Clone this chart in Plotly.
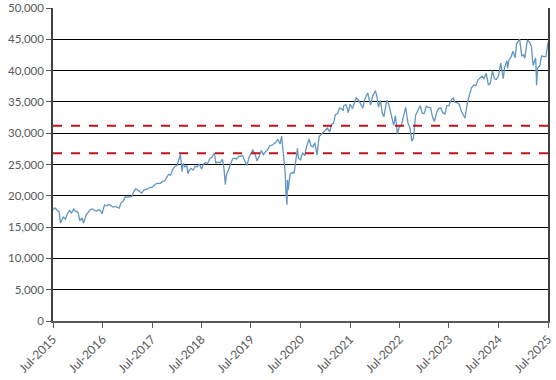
import plotly.graph_objects as go

dates = [
    "2015-07-01","2015-07-15","2015-08-01","2015-08-15","2015-08-25","2015-09-01","2015-09-15","2015-10-01","2015-10-15","2015-11-01","2015-11-15","2015-12-01","2015-12-15",
    "2016-01-01","2016-01-15","2016-02-01","2016-02-11","2016-03-01","2016-03-15","2016-04-01","2016-04-15","2016-05-01","2016-05-15","2016-06-01","2016-06-15","2016-06-27","2016-07-15","2016-08-01","2016-08-15","2016-09-01","2016-09-15","2016-10-01","2016-10-15","2016-11-01","2016-11-15","2016-12-01","2016-12-15",
    "2017-01-01","2017-01-15","2017-02-01","2017-02-15","2017-03-01","2017-03-15","2017-04-01","2017-04-15","2017-05-01","2017-05-15","2017-06-01","2017-06-15","2017-07-01","2017-07-15","2017-08-01","2017-08-15","2017-09-01","2017-09-15","2017-10-01","2017-10-15","2017-11-01","2017-11-15","2017-12-01","2017-12-15",
    "2018-01-01","2018-01-15","2018-01-26","2018-02-08","2018-02-15","2018-03-01","2018-03-15","2018-03-23","2018-04-01","2018-04-15","2018-05-01","2018-05-15","2018-06-01","2018-06-15","2018-07-01","2018-07-15","2018-08-01","2018-08-15","2018-09-01","2018-09-15","2018-10-03","2018-10-15","2018-11-01","2018-11-15","2018-12-03","2018-12-15","2018-12-24",
    "2019-01-01","2019-01-15","2019-02-01","2019-02-15","2019-03-01","2019-03-15","2019-04-01","2019-04-15","2019-05-01","2019-05-15","2019-06-03","2019-06-15","2019-07-01","2019-07-15","2019-08-01","2019-08-15","2019-09-01","2019-09-15","2019-10-01","2019-10-15","2019-11-01","2019-11-15","2019-12-01","2019-12-15",
    "2020-01-01","2020-01-15","2020-02-01","2020-02-12","2020-02-28","2020-03-09","2020-03-16","2020-03-23","2020-03-26","2020-04-01","2020-04-15","2020-05-01","2020-05-15","2020-06-08","2020-06-15","2020-07-01","2020-07-15","2020-08-01","2020-08-15","2020-09-02","2020-09-15","2020-10-01","2020-10-15","2020-10-30","2020-11-15","2020-12-01","2020-12-15",
    "2021-01-01","2021-01-15","2021-02-01","2021-02-15","2021-03-01","2021-03-15","2021-04-01","2021-04-15","2021-05-01","2021-05-12","2021-05-15","2021-06-01","2021-06-18","2021-07-01","2021-07-19","2021-08-01","2021-08-16","2021-09-01","2021-09-15","2021-10-04","2021-10-15","2021-11-01","2021-11-08","2021-11-30","2021-12-15","2021-12-29",
    "2022-01-04","2022-01-15","2022-01-27","2022-02-10","2022-02-24","2022-03-08","2022-03-29","2022-04-15","2022-05-01","2022-05-19","2022-06-01","2022-06-16","2022-07-01","2022-07-15","2022-08-01","2022-08-16","2022-09-01","2022-09-15","2022-09-30","2022-10-12","2022-10-28","2022-11-15","2022-12-01","2022-12-15","2022-12-30",
    "2023-01-15","2023-02-01","2023-02-15","2023-03-01","2023-03-15","2023-04-01","2023-04-15","2023-05-01","2023-05-15","2023-06-01","2023-06-15","2023-07-01","2023-07-15","2023-08-01","2023-08-15","2023-09-01","2023-09-15","2023-10-01","2023-10-27","2023-11-15","2023-12-01","2023-12-15",
    "2024-01-01","2024-01-15","2024-02-01","2024-02-15","2024-03-01","2024-03-15","2024-04-01","2024-04-17","2024-05-01","2024-05-17","2024-06-01","2024-06-15","2024-07-01","2024-07-17","2024-08-05","2024-08-15","2024-09-01","2024-09-06","2024-09-15","2024-10-01","2024-10-15","2024-11-01","2024-11-11","2024-12-04","2024-12-19",
    "2025-01-01","2025-01-10","2025-01-30","2025-02-15","2025-03-01","2025-03-13","2025-04-01","2025-04-08","2025-04-15","2025-05-01","2025-05-15","2025-06-01","2025-06-15","2025-07-01",
]

values = [
    17760,18050,17690,17480,15670,16060,16600,16280,17140,17660,17250,17890,17520,
    17425,15990,16450,15660,16870,17250,17790,17900,17770,17530,17790,17640,17140,18520,18400,18630,18420,18210,18310,18140,18040,18920,19190,19850,
    19760,19880,19890,20610,21115,20950,20660,20450,20910,20980,21140,21360,21350,21640,21960,21990,21990,22270,22400,22870,23440,23270,24230,24650,
    24820,25800,26620,23860,25200,24610,24870,23530,24100,24360,24100,24710,24630,25090,24270,25060,25330,25160,25960,26150,26830,25250,25380,25290,25830,24100,21790,
    23330,24070,25060,25880,26030,25850,26260,26380,26430,25650,24820,26090,26720,27360,26580,25580,26400,27220,26570,27020,27350,28000,28050,28240,
    28540,29030,28260,29550,25410,23850,20190,18590,22550,20940,23500,23720,23690,27570,26000,25730,26870,26430,27930,29100,27990,27820,28490,26500,29480,29820,30200,
    30600,30810,30210,31460,31540,32950,33150,34040,33870,33590,34380,34600,33290,34630,33960,34930,35630,35310,34810,34000,35290,36050,36430,34480,35930,36490,
    36800,35910,34160,35240,33220,32630,35290,34450,32980,31250,32810,29930,31100,31290,32800,34150,31650,30960,28730,29210,32860,33590,34400,33200,33150,
    34300,34090,34130,32660,31870,33270,33890,34050,33350,33060,34400,34400,35200,35630,34950,34840,34600,33500,32420,34990,36250,37300,
    37690,37600,38520,38770,39090,38710,39570,37750,37900,40000,38690,38590,39170,41200,38700,40560,41560,40350,41620,42150,43080,42050,44290,45010,42340,
    42540,41940,44880,44550,43840,40810,42000,37650,40370,40750,42320,42270,42200,44490,
]

ref_levels = [31200, 26800]
x_start = "2015-07-01"
x_end = "2025-07-01"
y_ticks = list(range(0, 50001, 5000))

fig = go.Figure()
fig.add_trace(go.Scatter(x=dates, y=values, mode="lines",
                         line=dict(color="#6296c3", width=1.3), showlegend=False))
for lv in ref_levels:
    fig.add_trace(go.Scatter(x=[x_start, x_end], y=[lv, lv], mode="lines",
                             line=dict(color="#c0141c", width=2, dash="dash"),
                             showlegend=False))

fig.update_layout(
    width=556, height=380,
    margin=dict(l=53, r=8, t=8, b=59),
    paper_bgcolor="white", plot_bgcolor="white",
    font=dict(family="Lato, Open Sans, sans-serif", size=12, color="#595959"),
)
fig.update_xaxes(
    type="date", range=[x_start, x_end], automargin=False,
    tick0=x_start, dtick="M12", tickformat="%b-%Y", tickangle=-45,
    tickfont=dict(size=12), ticklabeloverflow="allow",
    showgrid=False, showline=True, linecolor="#595959", linewidth=1.5,
    ticks="outside", ticklen=5, tickcolor="#595959",
)
fig.update_yaxes(
    range=[0, 50000], tickvals=y_ticks, tickformat=",d", automargin=False,
    ticklabeloverflow="allow", tickfont=dict(size=11.5),
    showgrid=True, gridcolor="black", gridwidth=1,
    showline=True, linecolor="#404040", linewidth=1.5, mirror=True,
    ticks="outside", ticklen=5, tickcolor="#595959", zeroline=False,
)

fig.write_html("out.html", config={"displayModeBar": False},
               post_script="document.body.style.margin='0';")
